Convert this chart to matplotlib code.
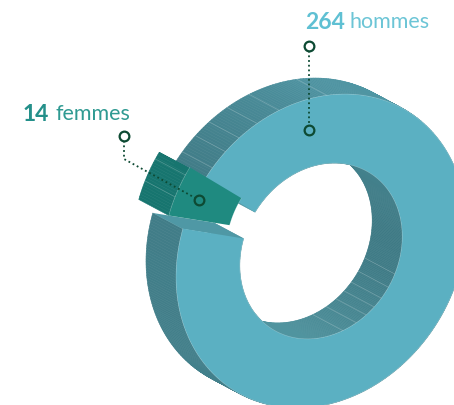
import matplotlib
matplotlib.use("Agg")
import matplotlib.pyplot as plt
import matplotlib.colors as mcolors
import numpy as np

# donnees
labels = ["femmes", "hommes"]
values = [14, 264]

# ticks drawn on the sides of the ring (angles around the ring, degrees)
outer_ticks = [221.5, 228.8, 235.6, 243.9, 253.2, 272.3]
inner_ticks = [24.7, 33.9, 42, 49.1, 56.2, 64.2, 74.4]
slice_ticks = [204.5, 213.0]

# oblique projection of the ring, in pixels
center = (321, 252)
mat = np.array([[145, 0], [-26, 154.8]])
hole = 0.56
depth = (-30, -16)
explode = (-14, -13.5)
first_cut = 197.6

FRONT = "#5bb0c2"
CUT = "#4f98a5"
GREEN = "#1f8a80"
GREEN_SIDE = "#17756f"
DOT = "#0d4a33"


def proj(theta, r, back=0.0, shift=(0, 0)):
    t = np.radians(theta)
    p = mat @ np.array([r * np.cos(t), r * np.sin(t)])
    return (p[0] + center[0] + back * depth[0] + shift[0],
            p[1] + center[1] + back * depth[1] + shift[1])


def shade(theta, stops, cols):
    rgb = [mcolors.to_rgb(c) for c in cols]
    return tuple(np.interp(theta % 360, stops, [c[i] for c in rgb]) for i in range(3))


def outer_col(theta):
    return shade(theta, [0, 130, 216, 275, 320, 360],
                 ["#42808b", "#42808b", "#417c87", "#4e93a1", "#5098a5", "#42808b"])


def inner_col(theta):
    return shade(theta, [0, 25, 100, 200, 360],
                 ["#3e7a85", "#3f7b86", "#50949f", "#50949f", "#3e7a85"])


def wall(ax, start, stop, r, colfn, shift=(0, 0), z=1):
    th = np.arange(start, stop, 1.0)
    for t in th:
        t2 = min(t + 1.0, stop)
        a = proj(t, r, 0, shift)
        b = proj(t2, r, 0, shift)
        c = proj(t2, r, 1, shift)
        d = proj(t, r, 1, shift)
        col = colfn(t)
        ax.fill([a[0], b[0], c[0], d[0]], [a[1], b[1], c[1], d[1]],
                facecolor=col, edgecolor=col, lw=0.4, zorder=z)


def ticks(ax, angles, r, shift=(0, 0), z=1.5):
    for t in angles:
        a = proj(t, r, 0, shift)
        d = proj(t, r, 1, shift)
        ax.plot([a[0], d[0]], [a[1], d[1]], color="white", alpha=0.25, lw=0.5, zorder=z)


def face(ax, start, stop, col, shift=(0, 0), z=3):
    th = np.arange(start, stop + 0.5, 0.5)
    out = np.array([proj(t, 1, 0, shift) for t in th])
    inn = np.array([proj(t, hole, 0, shift) for t in th[::-1]])
    pts = np.vstack([out, inn])
    ax.fill(pts[:, 0], pts[:, 1], facecolor=col, edgecolor="none", zorder=z)
    # thin lighter rim
    ax.plot(out[:, 0], out[:, 1], color="white", alpha=0.3, lw=0.4, zorder=z)
    ax.plot(inn[:, 0], inn[:, 1], color="white", alpha=0.3, lw=0.4, zorder=z)


fig = plt.figure(figsize=(4.54, 4.06), dpi=100)
ax = fig.add_axes([0, 0, 1, 1])
ax.set_xlim(0, 454)
ax.set_ylim(406, 0)
ax.axis("off")

# slice sizes from the counts
sweep = [v / sum(values) * 360 for v in values]
f_start = first_cut
f_stop = first_cut + sweep[0]
h_start = f_stop
h_stop = f_stop + sweep[1]

# men : sides, cut, front
wall(ax, h_start, h_stop, 1, outer_col)
wall(ax, h_start, h_stop, hole, inner_col)
ticks(ax, outer_ticks, 1)
ticks(ax, inner_ticks, hole)
p1 = proj(first_cut, 1)
p2 = proj(first_cut, hole)
p3 = proj(first_cut, hole, 1)
p4 = proj(first_cut, 1, 1)
ax.fill([p1[0], p2[0], p3[0], p4[0]], [p1[1], p2[1], p3[1], p4[1]],
        facecolor=CUT, edgecolor="none", zorder=2)
face(ax, h_start, h_stop, FRONT)

# women : pulled out of the ring
wall(ax, f_start, f_stop, 1, lambda t: GREEN_SIDE, shift=explode, z=4)
ticks(ax, slice_ticks, 1, shift=explode, z=4.5)
face(ax, f_start, f_stop, GREEN, shift=explode, z=5)

# leaders
dots = (0, (1, 1.6))
ax.plot([309, 309], [47, 131], color=DOT, lw=1.3, ls=dots, zorder=6)
ax.plot([124, 124, 199], [137, 160, 201], color=DOT, lw=1.3, ls=dots, zorder=6)
for x, y, fc in [(309, 47, "white"), (309, 131, FRONT), (124, 137, "white"), (199, 201, GREEN)]:
    ax.plot([x], [y], marker="o", ms=7, mfc=fc, mec=DOT, mew=1.6, zorder=7, ls="none")

# titles
fam = "Lato"
ax.text(305, 22.5, str(values[1]), color="#5fc0d3", fontsize=16.5, fontweight="bold",
        family=fam, va="center", ha="left")
ax.text(430, 22.5, labels[1], color="#6cc5d6", fontsize=15.5, family=fam, va="center", ha="right")
ax.text(23, 114.5, str(values[0]), color="#24908a", fontsize=16.5, fontweight="bold",
        family=fam, va="center", ha="left")
ax.text(130, 114.5, labels[0], color="#2f9a92", fontsize=15.5, family=fam, va="center", ha="right")

fig.savefig("out.png", dpi=100)
